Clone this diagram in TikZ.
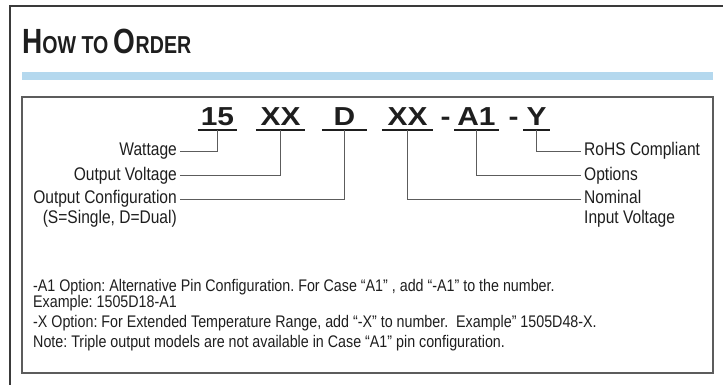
\documentclass[tikz,border=0pt]{standalone}
\usepackage{fontspec}
\setmainfont{Liberation Sans}[FakeStretch=0.85]
\newfontfamily\titlefont{Liberation Sans}[FakeStretch=0.8]
\newfontfamily\codefont{Liberation Sans}[FakeStretch=1.15]
\usepackage{tikz}
\frenchspacing
\definecolor{framegray}{HTML}{3A3A3A}
\definecolor{boxgray}{HTML}{5C5C5C}
\definecolor{barblue}{HTML}{B4D8EE}
\definecolor{textgray}{HTML}{1E1E1E}
\newcommand{\smcap}[2]{{\fontsize{35}{35}\selectfont #1}{\fontsize{24.5}{24.5}\selectfont #2}}

\tikzset{
  code/.style={font=\codefont\bfseries\fontsize{26}{26}\selectfont, text=textgray, inner xsep=3pt, inner ysep=4pt, text depth=0pt, anchor=base},
  uline/.style={line width=2pt, draw=textgray},
  lbl/.style={font=\fontsize{18.3}{20}\selectfont, text=textgray, inner xsep=3pt, inner ysep=0pt, text height=10pt, text depth=0pt},
  link/.style={draw=boxgray, line width=0.9pt},
  note/.style={font=\fontsize{16.8}{18}\selectfont, text=textgray, inner sep=0pt, anchor=base west},
}

\begin{document}
\begin{tikzpicture}[x=1pt,y=-1pt]
\useasboundingbox (0,0) rectangle (723,385);
% frame, bar and box
\draw[framegray, line width=1.6pt] (10,385) -- (10,6) -- (723,6);
\fill[barblue] (22,72) rectangle (713,80);
\draw[boxgray, line width=1.2pt] (22,97) rectangle (713,373);
\node[anchor=base west, inner sep=0pt, text=textgray, font=\titlefont\bfseries\fontsize{24.5}{24.5}\selectfont] (title) at (22,54) {\smcap{H}{OW} \smcap{}{TO} \smcap{O}{RDER}};

% part number
\node[code] (c15) at (217.5,126) {15};
\node[code, minimum width=49pt] (cXXa) at (280.5,126) {XX};
\node[code, minimum width=45pt] (cD) at (344.5,126) {D};
\node[code, minimum width=51pt] (cXXb) at (407.5,126) {XX};
\node[code] (dash1) at (445.5,126) {-};
\node[code] (cA) at (476.5,126) {A1};
\node[code] (dash2) at (513.5,126) {-};
\node[code] (cY) at (536.5,126) {Y};
\foreach \n in {c15,cXXa,cD,cXXb,cA,cY}
  \draw[uline] (\n.south west) -- (\n.south east);

% labels
\node[lbl, anchor=east] (wat) at (180,151) {Wattage};
\node[lbl, anchor=east] (vout) at (180,175) {Output Voltage};
\node[lbl, anchor=east] (cfg) at (180,199) {Output Configuration};
\node[lbl, anchor=east] (cfgb) at (180,218) {(S=Single, D=Dual)};
\node[lbl, anchor=west] (rohs) at (581,151) {RoHS Compliant};
\node[lbl, anchor=west] (opt) at (581,175) {Options};
\node[lbl, anchor=west] (vin) at (581,199) {Nominal};
\node[lbl, anchor=west] (vinb) at (581,218) {Input Voltage};

\draw[link] (c15.south) |- (wat.east);
\draw[link] (cXXa.south) |- (vout.east);
\draw[link] (cD.south) |- (cfg.east);
\draw[link] (cY.south) |- (rohs.west);
\draw[link] (cA.south) |- (opt.west);
\draw[link] (cXXb.south) |- (vin.west);

% notes
\node[note] (n1) at (33,291) {-A1 Option: Alternative Pin Configuration. For Case “A1” , add “-A1” to the number.};
\node[note] (n2) at (33,307) {Example: 1505D18-A1};
\node[note] (n3) at (33,327) {-X Option: For Extended Temperature Range, add “-X” to number.\ \ Example” 1505D48-X.};
\node[note] (n4) at (33,347) {Note: Triple output models are not available in Case “A1” pin configuration.};
\end{tikzpicture}
\end{document}
